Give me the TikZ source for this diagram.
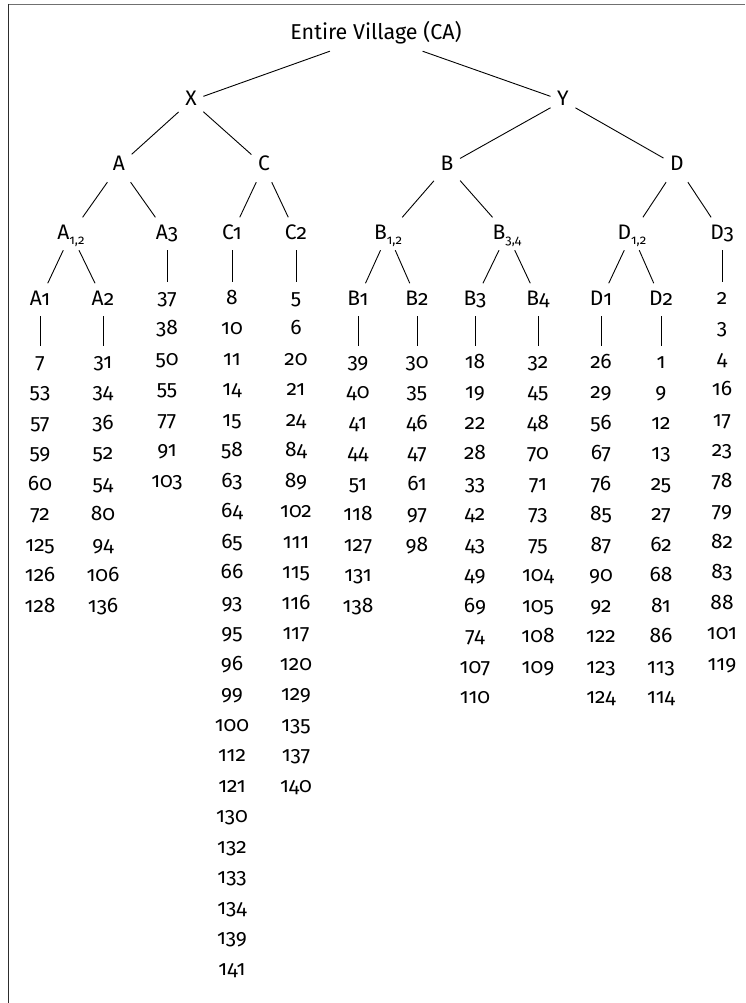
\documentclass[tikz,border=0pt]{standalone}
\usepackage{fontspec}
\setmainfont{Fira Sans}[Numbers=OldStyle]
\definecolor{frametop}{RGB}{112,112,112}
\definecolor{frameleft}{RGB}{45,45,45}
\tikzset{
  lab/.style={font=\fontsize{21}{25}\selectfont, text height=15pt, text depth=4.5pt, inner sep=6.5pt},
  rootlab/.style={lab, font=\fontsize{21.5}{26}\selectfont},
  num/.style={font=\fontsize{21}{25}\selectfont, text height=15pt, text depth=4.5pt, inner sep=6.5pt, anchor=base},
  edge/.style={line width=0.9pt, black},
}
% subscripted labels such as A_{1,2}
\newcommand\sublab[2]{#1\raisebox{-5pt}{\fontsize{13}{13}\selectfont #2}}
% a column of household numbers under a group
\newcommand\numcol[4]{%
  \foreach \v [count=\i] in {#4} {%
    \node[num] (#1-\i) at (#2, {#3+(\i-1)*30.5}) {\v};
  }%
}
\begin{document}
\begin{tikzpicture}[x=1pt, y=-1pt]
\useasboundingbox (0,0) rectangle (745,1003);
\fill[white] (0,0) rectangle (745,1003);
% frame edges
\draw[frametop, line width=1.3pt] (8,4.5) -- (745,4.5);
\draw[frameleft, line width=1.3pt] (8.3,4) -- (8.3,1003);

% root and first split
\node[rootlab, anchor=base] (root) at (376,40) {Entire Village (CA)};
\node[lab, anchor=base] (X) at (191,106) {X};
\node[lab, anchor=base] (Y) at (563,106) {Y};

% second split
\node[lab, anchor=base] (A) at (119,171) {A};
\node[lab, anchor=base] (C) at (264,171) {C};
\node[lab, anchor=base] (B) at (447,171) {B};
\node[lab, anchor=base] (D) at (677,171) {D};

% third split
\node[lab, anchor=base] (A12) at (71,239) {\sublab{A}{1,2}};
\node[lab, anchor=base] (A3) at (167,239) {A3};
\node[lab, anchor=base] (C1) at (232,239) {C1};
\node[lab, anchor=base] (C2) at (296,239) {C2};
\node[lab, anchor=base] (B12) at (388,239) {\sublab{B}{1,2}};
\node[lab, anchor=base] (B34) at (507,239) {\sublab{B}{3,4}};
\node[lab, anchor=base] (D12) at (632,239) {\sublab{D}{1,2}};
\node[lab, anchor=base] (D3) at (722,239) {D3};

% fourth split
\node[lab, anchor=base] (A1) at (40,305) {A1};
\node[lab, anchor=base] (A2) at (103,305) {A2};
\node[lab, anchor=base] (B1) at (358,305) {B1};
\node[lab, anchor=base] (B2) at (417,305) {B2};
\node[lab, anchor=base] (B3) at (475,305) {B3};
\node[lab, anchor=base] (B4) at (538,305) {B4};
\node[lab, anchor=base] (D1) at (601,305) {D1};
\node[lab, anchor=base] (D2) at (661,305) {D2};

% household numbers
\numcol{nA1}{40}{368}{7,53,57,59,60,72,125,126,128}
\numcol{nA2}{103}{368}{31,34,36,52,54,80,94,106,136}
\numcol{nA3}{167}{304}{37,38,50,55,77,91,103}
\numcol{nC1}{232}{304}{8,10,11,14,15,58,63,64,65,66,93,95,96,99,100,112,121,130,132,133,134,139,141}
\numcol{nC2}{296}{304}{5,6,20,21,24,84,89,102,111,115,116,117,120,129,135,137,140}
\numcol{nB1}{358}{368}{39,40,41,44,51,118,127,131,138}
\numcol{nB2}{417}{368}{30,35,46,47,61,97,98}
\numcol{nB3}{475}{368}{18,19,22,28,33,42,43,49,69,74,107,110}
\numcol{nB4}{538}{368}{32,45,48,70,71,73,75,104,105,108,109}
\numcol{nD1}{601}{368}{26,29,56,67,76,85,87,90,92,122,123,124}
\numcol{nD2}{661}{368}{1,9,12,13,25,27,62,68,81,86,113,114}
\numcol{nD3}{722}{304}{2,3,4,16,17,23,78,79,82,83,88,101,119}

% tree edges
\draw[edge] (root) -- (X);
\draw[edge] (root) -- (Y);
\draw[edge] (X) -- (A);
\draw[edge] (X) -- (C);
\draw[edge] (Y) -- (B);
\draw[edge] (Y) -- (D);
\draw[edge] (A) -- (A12);
\draw[edge] (A) -- (A3);
\draw[edge] (C) -- (C1);
\draw[edge] (C) -- (C2);
\draw[edge] (B) -- (B12);
\draw[edge] (B) -- (B34);
\draw[edge] (D) -- (D12);
\draw[edge] (D) -- (D3);
\draw[edge] (A12) -- (A1);
\draw[edge] (A12) -- (A2);
\draw[edge] (B12) -- (B1);
\draw[edge] (B12) -- (B2);
\draw[edge] (B34) -- (B3);
\draw[edge] (B34) -- (B4);
\draw[edge] (D12) -- (D1);
\draw[edge] (D12) -- (D2);

% leaves to their number lists
\draw[edge] (A1) -- (nA1-1);
\draw[edge] (A2) -- (nA2-1);
\draw[edge] (A3) -- (nA3-1);
\draw[edge] (C1) -- (nC1-1);
\draw[edge] (C2) -- (nC2-1);
\draw[edge] (B1) -- (nB1-1);
\draw[edge] (B2) -- (nB2-1);
\draw[edge] (B3) -- (nB3-1);
\draw[edge] (B4) -- (nB4-1);
\draw[edge] (D1) -- (nD1-1);
\draw[edge] (D2) -- (nD2-1);
\draw[edge] (D3) -- (nD3-1);
\end{tikzpicture}
\end{document}
